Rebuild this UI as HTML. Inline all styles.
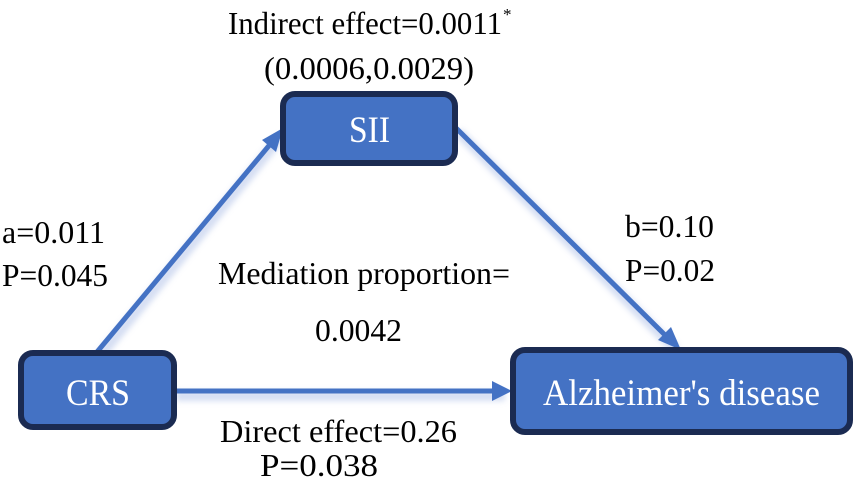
<!DOCTYPE html>
<html><head><meta charset="utf-8"><style>
html,body{margin:0;padding:0;background:#fff;}
svg{display:block;}
</style></head><body>
<svg width="854" height="483" viewBox="0 0 854 483" xmlns="http://www.w3.org/2000/svg">
<defs>
<filter id="sh" x="-20%" y="-20%" width="140%" height="140%"><feGaussianBlur stdDeviation="3"/></filter>
</defs>
<g stroke="#b9c8ea" stroke-width="10" opacity="0.6" filter="url(#sh)" fill="none">
<line x1="100" y1="356" x2="280" y2="138"/>
<line x1="458" y1="132" x2="676" y2="350"/>
<line x1="176" y1="396" x2="505" y2="396"/>
</g>
<g stroke="#4472C4" stroke-width="5" fill="none">
<line x1="97" y1="352" x2="272" y2="142"/>
<line x1="456" y1="128" x2="668" y2="338"/>
<line x1="176" y1="391" x2="494" y2="391"/>
</g>
<g fill="#4472C4">
<polygon points="283,128 262,140 276,152"/>
<polygon points="681,350 658,340 671,327"/>
<polygon points="512,391 492,381 492,401"/>
</g>
<g fill="#4472C4" stroke="#1b2b52" stroke-width="6">
<rect x="283" y="94" width="172" height="69" rx="12"/>
<rect x="21" y="353" width="153" height="74" rx="12"/>
<rect x="513" y="350" width="337" height="82" rx="12"/>
</g>
<g fill="#fff" font-size="37" font-family="'Liberation Serif','Times New Roman','DejaVu Serif',serif">
<text x="349" y="142" textLength="41" lengthAdjust="spacingAndGlyphs">SII</text>
<text x="66" y="405" textLength="64" lengthAdjust="spacingAndGlyphs">CRS</text>
<text x="543" y="405" textLength="277" lengthAdjust="spacingAndGlyphs">Alzheimer's disease</text>
</g>
<g fill="#000" font-size="32" font-family="'Liberation Serif','Times New Roman','DejaVu Serif',serif">
<text x="228" y="34" textLength="274" lengthAdjust="spacingAndGlyphs">Indirect effect=0.0011</text>
<text x="503" y="20" font-size="17">*</text>
<text x="264" y="79" textLength="210" lengthAdjust="spacingAndGlyphs">(0.0006,0.0029)</text>
<text x="2" y="243" textLength="103" lengthAdjust="spacingAndGlyphs">a=0.011</text>
<text x="2" y="286" textLength="106" lengthAdjust="spacingAndGlyphs">P=0.045</text>
<text x="218" y="284" textLength="292" lengthAdjust="spacingAndGlyphs">Mediation proportion=</text>
<text x="315" y="341" textLength="87" lengthAdjust="spacingAndGlyphs">0.0042</text>
<text x="625" y="237" textLength="89" lengthAdjust="spacingAndGlyphs">b=0.10</text>
<text x="625" y="281" textLength="90" lengthAdjust="spacingAndGlyphs">P=0.02</text>
<text x="220" y="442" textLength="237" lengthAdjust="spacingAndGlyphs">Direct effect=0.26</text>
<text x="260" y="476" textLength="118" lengthAdjust="spacingAndGlyphs">P=0.038</text>
</g>
</svg>
</body></html>
